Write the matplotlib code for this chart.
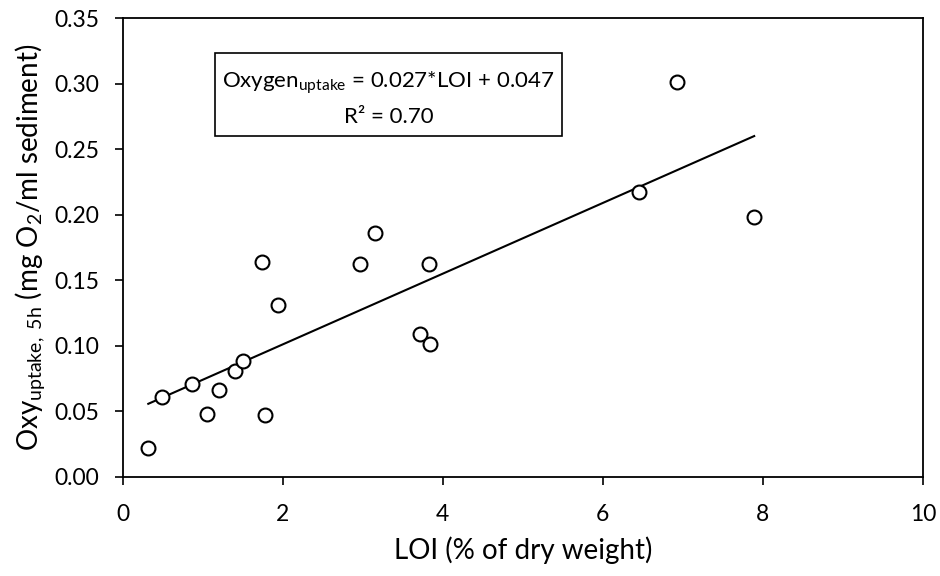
import matplotlib
matplotlib.use("Agg")
import matplotlib.pyplot as plt
from matplotlib.patches import Rectangle
import numpy as np

plt.rcParams['font.family'] = ['Lato', 'DejaVu Sans']
plt.rcParams['mathtext.fontset'] = 'custom'
plt.rcParams['mathtext.rm'] = 'Lato'
plt.rcParams['mathtext.it'] = 'Lato'

# data
loi = [0.32, 0.49, 0.86, 1.05, 1.20, 1.40, 1.50, 1.74, 1.78, 1.94,
       2.96, 3.15, 3.71, 3.83, 3.84, 6.45, 6.92, 7.89]
oxy = [0.022, 0.061, 0.071, 0.048, 0.066, 0.081, 0.088, 0.164, 0.047, 0.131,
       0.162, 0.186, 0.109, 0.162, 0.101, 0.217, 0.301, 0.198]
slope = 0.027
intercept = 0.047

fig = plt.figure(figsize=(9.4, 5.76), dpi=100)
ax = fig.add_axes([0.1305, 0.1724, 0.8515, 0.796])

ax.plot(loi, oxy, 'o', markersize=10, markerfacecolor='white',
        markeredgecolor='black', markeredgewidth=1.5, linestyle='none', zorder=3)

# trend line over the data range
xl = np.array([min(loi), max(loi)])
ax.plot(xl, slope * xl + intercept, color='black', linewidth=1.5, zorder=2)

# equation box
ax.add_patch(Rectangle((1.153, 0.2601), 4.336, 0.0633, facecolor='white',
                       edgecolor='black', linewidth=1.2, zorder=4))
ax.text(3.32, 0.2967, 'Oxygen$_{\\mathrm{uptake}}$ = 0.027*LOI + 0.047',
        ha='center', va='baseline', fontsize=16, zorder=5)
ax.text(3.32, 0.2700, 'R² = 0.70', ha='center', va='baseline', fontsize=16, zorder=5)

ax.set_xlim(0, 10)
ax.set_ylim(0, 0.35)
ax.set_xticks([0, 2, 4, 6, 8, 10])
ax.set_yticks(np.arange(0, 0.351, 0.05))
ax.set_yticklabels(['%.2f' % v for v in np.arange(0, 0.351, 0.05)])

ax.tick_params(direction='out', length=6, width=1.2, labelsize=16.5)
ax.tick_params(axis='x', pad=14)
ax.tick_params(axis='y', pad=11)
for s in ax.spines.values():
    s.set_linewidth(1.3)

ax.set_xlabel('LOI (% of dry weight)', fontsize=20, labelpad=8)
ax.set_ylabel('Oxy$_{\\mathrm{uptake,\\ 5h}}$ (mg O$_2$/ml sediment)', fontsize=20, labelpad=5)

fig.savefig('out.png', dpi=100)
